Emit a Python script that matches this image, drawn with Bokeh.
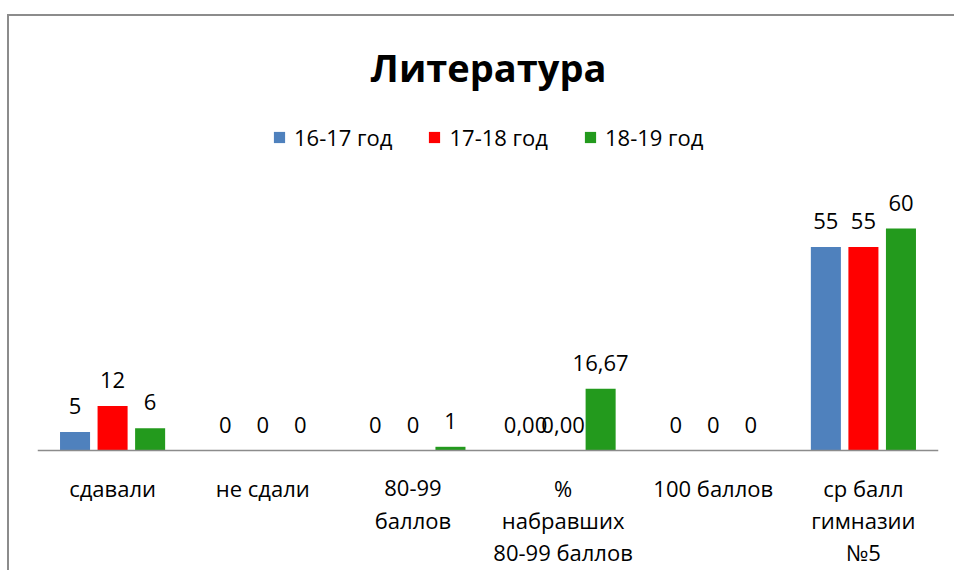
from bokeh.plotting import figure
from bokeh.models import ColumnDataSource, FactorRange, Label, Legend, LegendItem, LabelSet, Span
from bokeh.transform import dodge
from bokeh.core.properties import value
from bokeh.embed import file_html
from bokeh.resources import INLINE

categories = ["сдавали", "не сдали", "80-99 баллов", "% набравших 80-99 баллов", "100 баллов", "ср балл гимназии №5"]
tick_labels = ["сдавали", "не сдали", "80-99\nбаллов", "%\nнабравших\n80-99 баллов", "100 баллов", "ср балл\nгимназии\n№5"]
series_names = ["16-17 год", "17-18 год", "18-19 год"]
s1 = [5, 0, 0, 0.00, 0, 55]
s2 = [12, 0, 0, 0.00, 0, 55]
s3 = [6, 0, 1, 16.67, 0, 60]
label_decimals = [0, 0, 0, 2, 0, 0]
colors = ["#4F81BD", "#FF0000", "#239A1D"]
title_text = "Литература"

FONT = "Open Sans"
PX = 3.7          # pixels per data unit
FRAME_ABOVE = 434  # pixels of frame above the zero line
FRAME_BELOW = 122  # pixels of frame below the zero line
H = FRAME_ABOVE + FRAME_BELOW

def fmt(v, d):
    return f"{v:.{d}f}".replace(".", ",")

data = {"cat": categories}
for i, s in enumerate([s1, s2, s3]):
    data[f"s{i}"] = s
    data[f"l{i}"] = [fmt(v, d) for v, d in zip(s, label_decimals)]
src = ColumnDataSource(data)

# category label lines
lc, lt, ly = [], [], []
for c, t in zip(categories, tick_labels):
    for k, line in enumerate(t.split("\n")):
        lc.append(c)
        lt.append(line)
        ly.append(-(37 + 32 * k) / PX)
lsrc = ColumnDataSource(dict(cat=lc, text=lt, y=ly))

p = figure(x_range=FactorRange(*categories), y_range=(-FRAME_BELOW / PX, FRAME_ABOVE / PX),
           width=947, height=H, output_backend="svg", toolbar_location=None,
           min_border_left=28, min_border_right=18, min_border_top=0, min_border_bottom=0,
           x_axis_location=None, y_axis_location=None)
p.margin = (16, 0, 0, 9)
p.styles = {"box-shadow": "-2px -2px 0 0 #8c8c8c"}

p.outline_line_color = None
p.xgrid.grid_line_color = None
p.ygrid.grid_line_color = None
p.background_fill_color = "white"

p.add_layout(Span(location=0, dimension="width", line_color="#8c8c8c", line_width=1.5))

offsets = [-0.25, 0.0, 0.25]
items = []
for i in range(3):
    r = p.vbar(x=dodge("cat", offsets[i], range=p.x_range), top=f"s{i}", width=0.2,
               source=src, fill_color=colors[i], line_color=None)
    items.append(LegendItem(label=series_names[i], renderers=[r]))
    lab = LabelSet(x=dodge("cat", offsets[i], range=p.x_range), y=f"s{i}", text=f"l{i}",
                   source=src, text_align="center", text_baseline="bottom", y_offset=18,
                   text_font=value(FONT), text_font_size="22px", text_color="black")
    p.add_layout(lab)

p.text(x="cat", y="y", text="text", source=lsrc, text_align="center", text_baseline="alphabetic",
       text_font=value(FONT), text_font_size="22px", text_color="black")

legend = Legend(items=items, orientation="horizontal", location=(235, H - 136),
                border_line_color=None, background_fill_alpha=0,
                label_text_font=FONT, label_text_font_size="22px", label_text_color="black",
                glyph_width=14, glyph_height=14, label_standoff=8, spacing=35,
                padding=0, margin=0)
p.add_layout(legend, "center")

p.add_layout(Label(x=451, y=H - 50, x_units="screen", y_units="screen",
                   text=title_text, text_align="center", text_baseline="middle", text_font=FONT,
                   text_font_size="38px", text_font_style="bold", text_color="black"))

open("out.html", "w").write(file_html(p, INLINE))
